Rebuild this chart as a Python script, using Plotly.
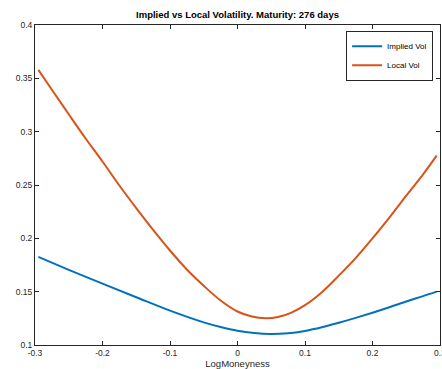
import plotly.graph_objects as go

local_x = [-0.295, -0.275, -0.25, -0.225, -0.2, -0.175, -0.15, -0.125, -0.1, -0.075, -0.05, -0.025,
           0.0, 0.02, 0.042, 0.06, 0.08, 0.1, 0.125, 0.15, 0.175, 0.2, 0.225, 0.25, 0.275, 0.295]
local_vol = [0.3579, 0.3393, 0.3163, 0.2936, 0.2720, 0.2495, 0.2283, 0.2079, 0.1886, 0.1708, 0.1555, 0.1417,
             0.1314, 0.1269, 0.1250, 0.1262, 0.1304, 0.1373, 0.1495, 0.1650, 0.1815, 0.2000, 0.2195, 0.2400, 0.2600, 0.2775]

implied_x = [-0.295, -0.25, -0.2, -0.15, -0.1, -0.05, -0.025, 0.0, 0.025, 0.048, 0.075, 0.1,
             0.125, 0.15, 0.175, 0.2, 0.225, 0.25, 0.275, 0.295]
implied_vol = [0.1826, 0.1705, 0.1575, 0.1448, 0.1322, 0.1212, 0.1168, 0.1133, 0.1112, 0.1103, 0.1110, 0.1132,
               0.1166, 0.1208, 0.1254, 0.1303, 0.1354, 0.1408, 0.1458, 0.1500]

x_ticks = [-0.3, -0.2, -0.1, 0, 0.1, 0.2, 0.3]
x_tick_labels = ["-0.3", "-0.2", "-0.1", "0", "0.1", "0.2", "0.3"]
y_ticks = [0.1, 0.15, 0.2, 0.25, 0.3, 0.35, 0.4]
y_tick_labels = ["0.1", "0.15", "0.2", "0.25", "0.3", "0.35", "0.4"]

font_family = "Liberation Sans, Arial, sans-serif"
axis_color = "#262626"

fig = go.Figure()
fig.add_trace(go.Scatter(x=implied_x, y=implied_vol, mode="lines", name="Implied Vol",
                         line=dict(color="#0072BD", width=2, shape="spline", smoothing=1.0)))
fig.add_trace(go.Scatter(x=local_x, y=local_vol, mode="lines", name="Local Vol",
                         line=dict(color="#D95319", width=2, shape="spline", smoothing=1.0)))

axis_common = dict(showline=True, linecolor=axis_color, linewidth=1, mirror="ticks",
                   ticks="inside", ticklen=4, tickcolor=axis_color, showgrid=False,
                   zeroline=False, automargin=False,
                   tickfont=dict(size=8.5, color=axis_color, family=font_family))

fig.update_layout(
    width=442, height=369,
    margin=dict(l=35, r=2, t=25, b=24),
    paper_bgcolor="white", plot_bgcolor="white",
    font=dict(family=font_family, color=axis_color),
    title=dict(text="<b>Implied vs Local Volatility. Maturity: 276 days</b>",
               x=0.5, xref="paper", xanchor="center",
               y=1 - 15 / 369, yref="container", yanchor="middle",
               font=dict(size=9.5, color="black", family=font_family)),
    xaxis=dict(range=[-0.3, 0.3], tickvals=x_ticks, ticktext=x_tick_labels,
               ticklabeloverflow="allow",
               title=dict(text="LogMoneyness", font=dict(size=9.5, color=axis_color), standoff=3),
               **axis_common),
    yaxis=dict(range=[0.1, 0.4], tickvals=y_ticks, ticktext=y_tick_labels, **axis_common),
    legend=dict(x=0.983, y=0.982, xanchor="right", yanchor="top",
                bgcolor="white", bordercolor=axis_color, borderwidth=1,
                font=dict(size=8, color="black", family=font_family),
                itemwidth=30, tracegroupgap=0),
    showlegend=True,
)

fig.write_html("out.html")
